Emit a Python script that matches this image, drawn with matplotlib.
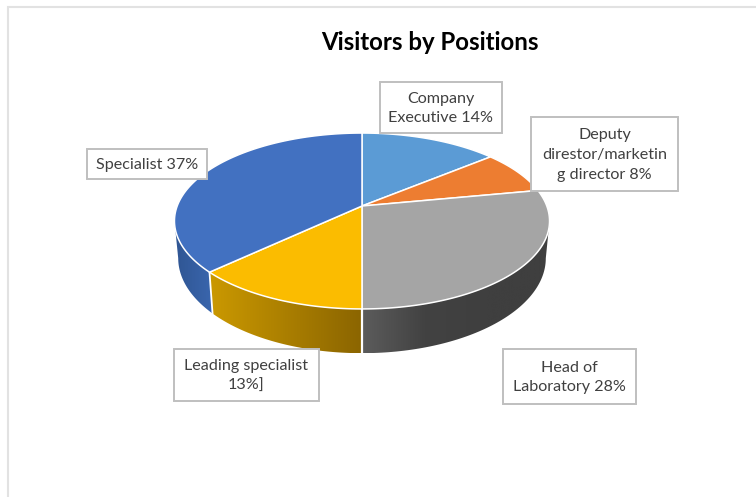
import numpy as np
import matplotlib
matplotlib.use("Agg")
import matplotlib.pyplot as plt
from matplotlib.patches import Polygon, Rectangle
from matplotlib.colors import LinearSegmentedColormap

title = "Visitors by Positions"
values = [14, 8, 28, 13, 37]
label_texts = ["Company\nExecutive 14%", "Deputy\ndirestor/marketin\ng director 8%",
               "Head of\nLaboratory 28%", "Leading specialist\n13%]", "Specialist 37%"]
colors = ["#5b9bd5", "#ed7d31", "#a5a5a5", "#fbbc00", "#4271c1"]
wall_colors = [None, None, ("#5c5c5c", "#424242", "#3f3f3f", "#3f3f3f"),
               ("#cb9900", "#8b6500"), ("#2f5592", "#3a66ae")]
boxes = [(380, 82, 502, 133), (531, 117, 678, 191), (503, 349, 636, 404),
         (174, 349, 319, 401), (87, 149, 207, 179)]

plt.rcParams['font.family'] = ['Lato', 'DejaVu Sans']
fig = plt.figure(figsize=(7.56, 4.97), dpi=100)
ax = fig.add_axes([0, 0, 1, 1])

# Projection of the pie disc
cx, cy = 362.0, 206.0
k, a, b = 0.1705, 85.4, 184.8
wall_sx, wall_sy, wall_d = 0.98, 1.08, 36.0


def rim(theta, sx=1.0, sy=1.0, d=0.0):
    x, y = np.sin(theta), np.cos(theta)
    w = 1 + k * y
    return cx + sx * b * x / w, cy - sy * a * y / w + d


fractions = np.cumsum([0] + values) / sum(values) * 2 * np.pi
hor = np.arccos(-k)  # silhouette tangents

# Side walls
for i, cols in enumerate(wall_colors):
    if cols is None:
        continue
    t0, t1 = max(fractions[i], hor), min(fractions[i + 1], 2 * np.pi - hor)
    th = np.linspace(t0, t1, 80)
    xt, yt = rim(th)
    xb, yb = rim(th, wall_sx, wall_sy, wall_d)
    pts = np.column_stack([np.r_[xt, xb[::-1]], np.r_[yt, yb[::-1]]])
    poly = Polygon(pts, closed=True, facecolor="none", edgecolor="none")
    ax.add_patch(poly)
    cmap = LinearSegmentedColormap.from_list("w", list(cols))
    grad = np.linspace(0, 1, 256).reshape(1, -1)
    im = ax.imshow(grad, cmap=cmap, aspect="auto", zorder=1,
                   extent=(pts[:, 0].min(), pts[:, 0].max(), pts[:, 1].max(), pts[:, 1].min()))
    im.set_clip_path(poly)
    if i == 3:  # white separators at the wedge boundaries on the wall
        ax.plot([xt[-1], xb[-1]], [yt[-1], yb[-1]], color="white", lw=1.3, zorder=2)
        ax.plot([xt[0], xb[0]], [yt[0], yb[0]], color="white", lw=1.6, zorder=2)

# Top faces
for i, col in enumerate(colors):
    th = np.linspace(fractions[i], fractions[i + 1], 120)
    xt, yt = rim(th)
    pts = np.column_stack([np.r_[cx, xt], np.r_[cy, yt]])
    ax.add_patch(Polygon(pts, closed=True, facecolor=col, edgecolor="white", lw=1.1,
                         joinstyle="round", zorder=3))

# Data labels
for (x0, y0, x1, y1), txt in zip(boxes, label_texts):
    ax.add_patch(Rectangle((x0, y0), x1 - x0, y1 - y0, facecolor="white",
                           edgecolor="#bfbfbf", lw=1.4, zorder=5))
    ax.text((x0 + x1) / 2, (y0 + y1) / 2 + 1, txt, ha="center", va="center", fontsize=11.6,
            color="#404040", linespacing=1.54, zorder=6)

ax.text(430, 43, title, ha="center", va="center", fontsize=17.3, fontweight="bold", color="black")

# Chart frame, cut by the picture edge
ax.plot([8, 8, 756], [497, 7, 7], color="#e2e2e2", lw=1.5, solid_joinstyle="miter", zorder=0)

ax.set_xlim(0, 756)
ax.set_ylim(497, 0)
ax.set_aspect("auto")
ax.axis("off")
fig.savefig("out.png", dpi=100, facecolor="white")
